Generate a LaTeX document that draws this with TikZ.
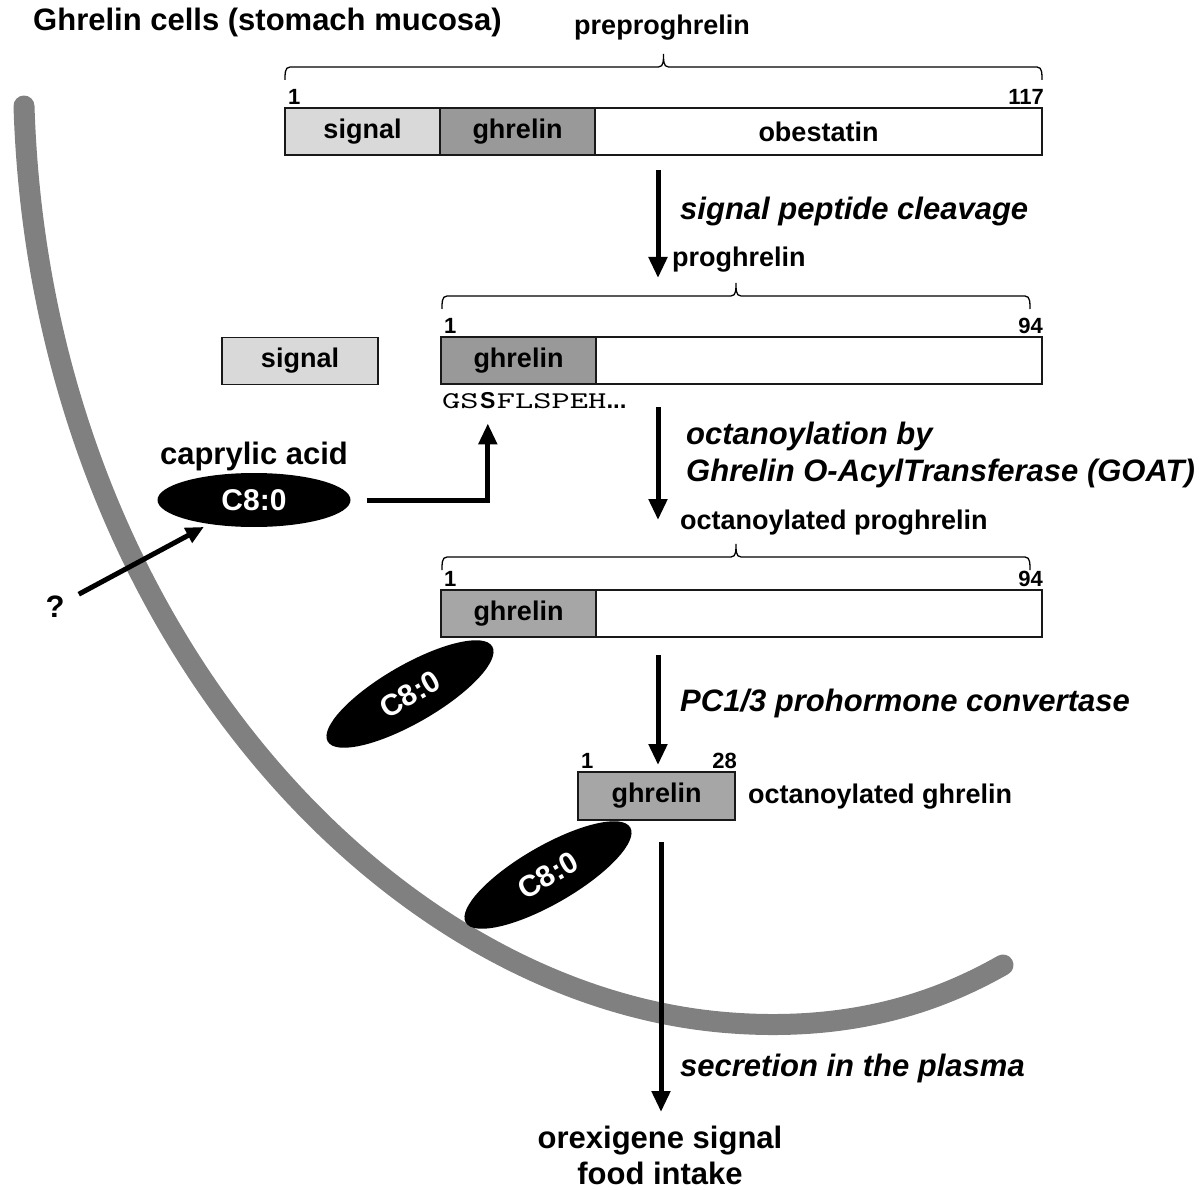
\documentclass[tikz,border=0pt]{standalone}
\usepackage{fontspec}
\setmainfont{Liberation Sans}
\newfontfamily\seqfont{lmmono10-regular.otf}[FakeStretch=1.45]
\usetikzlibrary{arrows.meta}
\usetikzlibrary{positioning}
\usetikzlibrary{shapes.geometric}
\tikzstyle{seg} = [rectangle, draw=black!90, line width=1.8pt, outer sep=0pt, inner sep=0pt, minimum height=47pt, font=\bfseries\fontsize{27}{30}\selectfont]
\tikzstyle{num} = [inner sep=0pt, font=\bfseries\fontsize{22}{24}\selectfont]
\tikzstyle{lbl} = [inner sep=0pt, font=\bfseries\fontsize{27}{30}\selectfont]
\tikzstyle{big} = [inner sep=0pt, align=center, font=\bfseries\fontsize{31}{36}\selectfont]
\tikzstyle{proc} = [inner sep=0pt, align=left, font=\bfseries\itshape\fontsize{31}{37}\selectfont]
\tikzstyle{acid} = [ellipse, fill=black, text=white, inner sep=0pt, minimum width=192pt, minimum height=56pt, font=\bfseries\fontsize{30}{32}\selectfont]
\tikzstyle{flow} = [-{Triangle[width=18pt,length=21pt]}, line width=5pt]
\tikzstyle{membrane} = [line width=21pt, draw=gray, line cap=round]
% bracket over a chain: left x, right x, y of the feet
\newcommand{\chainbrace}[3]{%
  \draw [line width=1.3pt] (#1,#3) to[out=90,in=180] ++(5,-13)
    -- ({(#1+#2)/2-5},#3-13) to[out=0,in=-90] ++(5,-13)
    to[out=-90,in=180] ++(5,13) -- ({#2-5},#3-13) to[out=0,in=90] (#2,#3);}

\begin{document}
\begin{tikzpicture}[x=1pt, y=-1pt]
\useasboundingbox (0,0) rectangle (1200,1190);

% cell membrane
\draw [membrane] (24,106) .. controls (40,620) and (380,990) .. (720,1022)
  .. controls (860,1035) and (950,995) .. (1003,965);

\node [big, anchor=west] (title) at (33,22) {Ghrelin cells (stomach mucosa)};

% preproghrelin
\node [lbl] (pre) at (662,28) {preproghrelin};
\chainbrace{285}{1042}{80}
\node [seg, fill=gray!30, minimum width=155pt] (sig1) at (362.5,131.5) {signal};
\node [seg, fill=gray!80, minimum width=155pt, right=0pt of sig1] (gh1) {ghrelin};
\node [seg, fill=white, minimum width=447pt, right=0pt of gh1] (ob1) {obestatin};
\node [num, anchor=south west] (n1a) at ([shift={(3pt,3pt)}]sig1.north west) {1};
\node [num, anchor=south east] (n1b) at ([shift={(2pt,3pt)}]ob1.north east) {117};

\coordinate (a1s) at (658,170);
\coordinate (a1e) at (658,278);
\draw [flow] (a1s) -- (a1e);
\node [proc, anchor=west] (cut) at (680,211) {signal peptide cleavage};

% proghrelin
\node [lbl, anchor=west] (pro) at (672,260) {proghrelin};
\chainbrace{442}{1030}{309}
\node [seg, fill=gray!80, minimum width=155pt] (gh2) at (518.5,360.5) {ghrelin};
\node [seg, fill=white, minimum width=446pt, right=0pt of gh2] (rest2) {};
\node [num, anchor=south west] (n2a) at ([shift={(3pt,3pt)}]gh2.north west) {1};
\node [num, anchor=south east] (n2b) at ([shift={(1pt,3pt)}]rest2.north east) {94};
\node [seg, fill=gray!30, minimum width=156pt] (sig2) at (300,361) {signal};

% sequence
\node [inner sep=0pt, anchor=base west, font=\seqfont\fontsize{24}{26}\selectfont] (seqa) at (442,409) {GS};
\node [inner sep=0pt, anchor=base west, font=\bfseries\fontsize{23}{26}\selectfont] (ser) at ([xshift=1pt]seqa.base east) {S};
\node [inner sep=0pt, anchor=base west, font=\seqfont\fontsize{24}{26}\selectfont] (seqb) at ([xshift=1pt]ser.base east) {FLSPEH\bfseries\rmfamily...};

% caprylic acid
\node [big] (capname) at (254,456) {caprylic acid};
\node [acid, minimum width=193pt, minimum height=54pt] (cap) at (254,500) {C8:0};
\draw [flow] ([xshift=16pt]cap.east) -| ([yshift=-14pt]ser.south);
\node [big] (q) at (55,607) {?};
\draw [flow, -{Triangle[width=16pt,length=18pt]}, shorten <=16pt, shorten >=6pt] (q) -- (cap);

\coordinate (a2s) at (658,407);
\coordinate (a2e) at (658,520);
\draw [flow] (a2s) -- (a2e);
\node [proc, anchor=north west] (goat) at (686,422) {octanoylation by\\Ghrelin O-AcylTransferase (GOAT)};

% octanoylated proghrelin
\node [lbl, anchor=west] (octpro) at (680,523) {octanoylated proghrelin};
\chainbrace{442}{1030}{570}
\node [seg, fill=gray!70, minimum width=155pt] (gh3) at (518.5,613.5) {ghrelin};
\node [seg, fill=white, minimum width=446pt, right=0pt of gh3] (rest3) {};
\node [num, anchor=south west] (n3a) at ([shift={(3pt,3pt)}]gh3.north west) {1};
\node [num, anchor=south east] (n3b) at ([shift={(1pt,3pt)}]rest3.north east) {94};
\node [acid, rotate=30, minimum width=190pt, minimum height=58pt] (c8a) at (410,694) {C8:0};

\coordinate (a3s) at (658,655);
\coordinate (a3e) at (658,765);
\draw [flow] (a3s) -- (a3e);
\node [proc, anchor=west] (pc) at (680,703) {PC1/3 prohormone convertase};

% octanoylated ghrelin
\node [seg, fill=gray!70, minimum width=157pt, minimum height=48pt] (gh4) at (656.5,796) {ghrelin};
\node [num, anchor=south west] (n4a) at ([shift={(3pt,3pt)}]gh4.north west) {1};
\node [num, anchor=south east] (n4b) at ([shift={(2pt,3pt)}]gh4.north east) {28};
\node [lbl, anchor=west] (octgh) at (748,797) {octanoylated ghrelin};
\node [acid, rotate=30, minimum width=190pt, minimum height=58pt] (c8b) at (548,875) {C8:0};

\coordinate (a4s) at (661,842);
\coordinate (a4e) at (661,1112);
\draw [flow] (a4s) -- (a4e);
\node [proc, anchor=west] (sec) at (680,1068) {secretion in the plasma};
\node [big] (food) at (660,1155) {orexigene signal\\food intake};
\end{tikzpicture}
\end{document}
